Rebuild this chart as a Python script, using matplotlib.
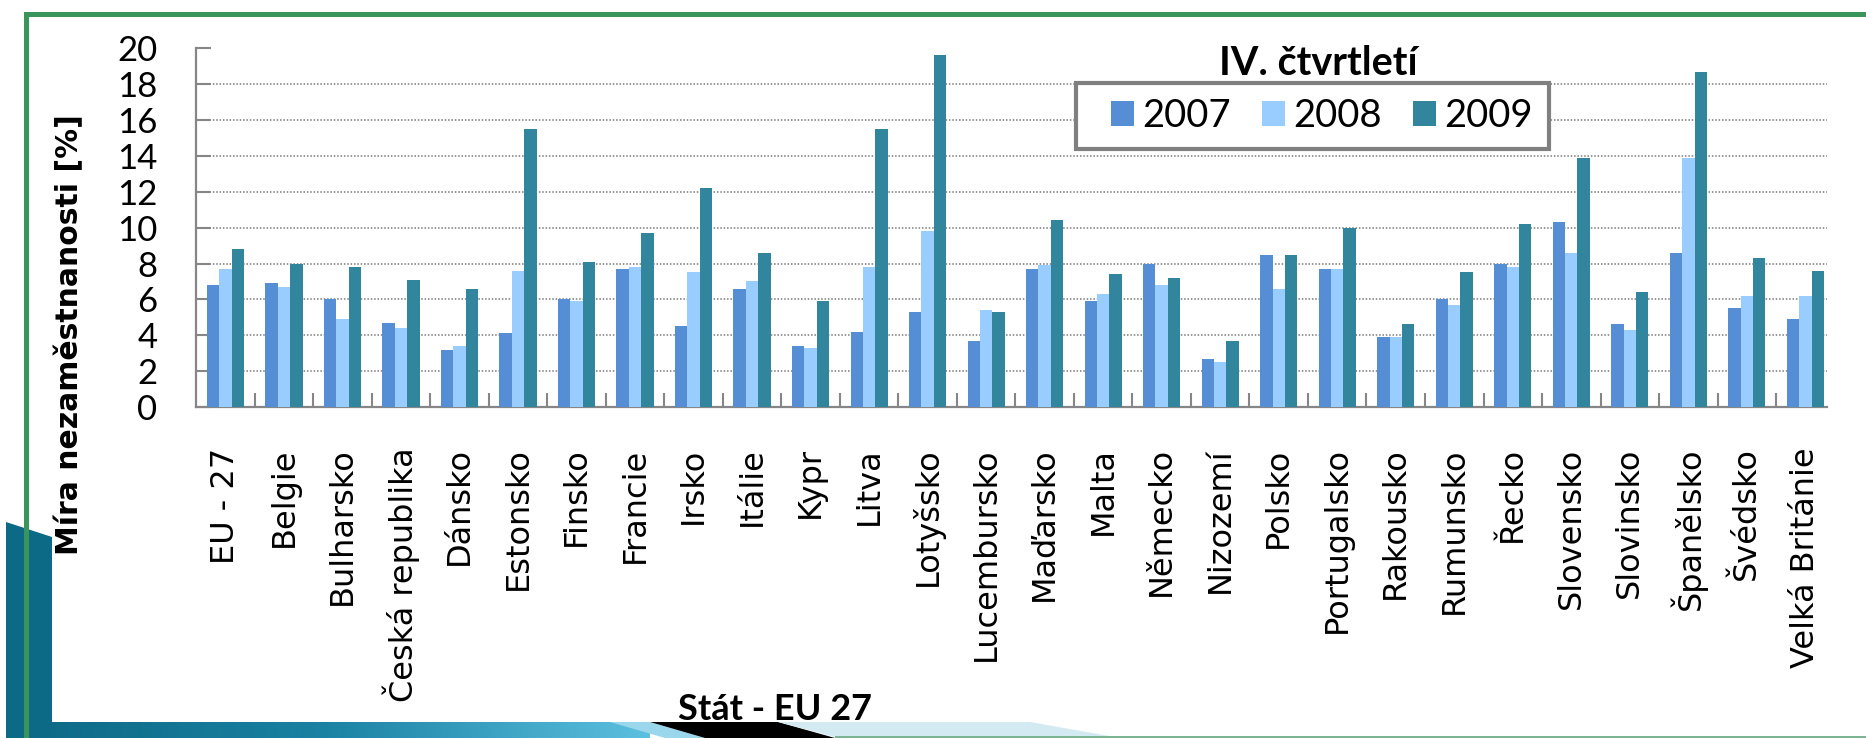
import numpy as np
import matplotlib
matplotlib.use("Agg")
import matplotlib.pyplot as plt
from matplotlib.patches import Rectangle, Polygon
from matplotlib.font_manager import FontProperties
from matplotlib.colors import LinearSegmentedColormap

categories = ["EU - 27", "Belgie", "Bulharsko", "Česká republika", "Dánsko",
              "Estonsko", "Finsko", "Francie", "Irsko", "Itálie", "Kypr",
              "Litva", "Lotyšsko", "Lucembursko", "Maďarsko", "Malta",
              "Německo", "Nizozemí", "Polsko", "Portugalsko", "Rakousko",
              "Rumunsko", "Řecko", "Slovensko", "Slovinsko", "Španělsko",
              "Švédsko", "Velká Británie"]
v2007 = [6.8, 6.9, 6.0, 4.7, 3.2, 4.1, 6.0, 7.7, 4.5, 6.6, 3.4, 4.2, 5.3, 3.7,
         7.7, 5.9, 8.0, 2.7, 8.5, 7.7, 3.9, 6.0, 8.0, 10.3, 4.6, 8.6, 5.5, 4.9]
v2008 = [7.7, 6.7, 4.9, 4.4, 3.4, 7.6, 5.9, 7.8, 7.5, 7.0, 3.3, 7.8, 9.8, 5.4,
         7.9, 6.3, 6.8, 2.5, 6.6, 7.7, 3.9, 5.7, 7.8, 8.6, 4.3, 13.9, 6.2, 6.2]
v2009 = [8.8, 8.0, 7.8, 7.1, 6.6, 15.5, 8.1, 9.7, 12.2, 8.6, 5.9, 15.5, 19.6, 5.3,
         10.4, 7.4, 7.2, 3.7, 8.5, 10.0, 4.6, 7.5, 10.2, 13.9, 6.4, 18.7, 8.3, 7.6]
series_names = ["2007", "2008", "2009"]
yticks = [0, 2, 4, 6, 8, 10, 12, 14, 16, 18, 20]

colors = ["#558ED5", "#99CCFF", "#31859C"]
W, H = 1866, 738
fig = plt.figure(figsize=(W / 100, H / 100), dpi=100)
fig.patch.set_facecolor("white")

ax = fig.add_axes([196.2 / W, 1 - 407 / H, (1827 - 196.2) / W, (407 - 48.3) / H])
x = np.arange(len(categories))
bw = 0.212
for i, (vals, name) in enumerate(zip([v2007, v2008, v2009], series_names)):
    ax.bar(x + (i - 1) * bw, vals, width=bw, color=colors[i], label=name,
           zorder=3, linewidth=0)

ax.set_xlim(-0.5, 27.37)
ax.set_ylim(0, 20)
ax.set_yticks(yticks)
ax.set_yticklabels([str(t) for t in yticks], fontproperties=FontProperties(family="Lato", size=25))
ax.hlines(yticks[1:-1], 0, 1, transform=ax.get_yaxis_transform(), colors="#7a7a7a",
          linestyles=(0, (1, 1.2)), linewidth=1.1, zorder=1)

ax.set_xticks(x)
ax.set_xticklabels(categories, rotation=90, family="DejaVu Sans", fontsize=23,
                   ha="center", va="top")
ax.set_xticks(np.arange(len(categories) - 1) + 0.5, minor=True)
ax.tick_params(axis="x", which="major", length=0, pad=29)
ax.tick_params(axis="x", which="minor", direction="in", length=10, width=1.5, color="#868686")
ax.tick_params(axis="y", which="major", direction="in", length=10.8, width=1.5,
               color="#868686", pad=28)
for s in ["top", "right"]:
    ax.spines[s].set_visible(False)
for s in ["left", "bottom"]:
    ax.spines[s].set_color("#868686")
    ax.spines[s].set_linewidth(1.6)
ax.set_facecolor("none")

fig.text(70 / W, 1 - 335 / H, "Míra nezaměstnanosti [%]", rotation=90,
         family="DejaVu Sans", weight="bold", fontsize=21.5, ha="center", va="center")
fig.text(775 / W, 1 - 720 / H, "Stát - EU 27", family="Lato", weight="bold",
         fontsize=26, ha="center", va="baseline", zorder=2)
fig.text(1318 / W, 1 - 75 / H, "IV. čtvrtletí", family="Lato", weight="bold",
         fontsize=28.5, ha="center", va="baseline")

# legend frame (white box with thick grey border), drawn inside the axes under the legend
ax.add_patch(Rectangle((1076 / W, 1 - 149 / H), (1549 - 1076) / W, (149 - 83) / H,
                       transform=fig.transFigure, facecolor="white", clip_on=False,
                       edgecolor="#808080", linewidth=3, zorder=4))
leg = ax.legend(ncol=3, loc="center", bbox_to_anchor=(1322 / W, 1 - 116 / H),
                bbox_transform=fig.transFigure,
                prop=FontProperties(family="Lato", size=27.5),
                handlelength=0.61, handleheight=0.61, handletextpad=0.22,
                columnspacing=0.8, borderpad=0.2, frameon=False)
leg.set_zorder(5)

# slide decorations (pixel space overlay)
deco = fig.add_axes([0, 0, 1, 1], zorder=10)
deco.set_xlim(0, W)
deco.set_ylim(H, 0)
deco.axis("off")
deco.patch.set_alpha(0)
grad = np.linspace(0, 1, 256).reshape(1, -1)
cm = LinearSegmentedColormap.from_list("band", ["#0C6884", "#1A82A3", "#5CC0E0"])
deco.imshow(grad, extent=[6, 650, 738, 722], cmap=cm, aspect="auto", zorder=1)
deco.add_patch(Polygon([(6, 522), (52, 537), (52, 738), (6, 738)], closed=True,
                       facecolor="#0D6A86", edgecolor="none", zorder=2))
deco.add_patch(Polygon([(610, 722), (650, 722), (705, 738), (665, 738)], closed=True,
                       facecolor="#9AD7EC", edgecolor="none", zorder=3))
deco.add_patch(Polygon([(650, 722), (778, 722), (835, 738), (705, 738)], closed=True,
                       facecolor="black", edgecolor="none", zorder=3))
deco.add_patch(Polygon([(778, 722), (1030, 722), (1115, 737), (835, 737)], closed=True,
                       facecolor="#D3EAF3", edgecolor="none", zorder=3))
deco.add_patch(Rectangle((835, 736), W - 835, 2, facecolor="#7DB494", edgecolor="none", zorder=3))
deco.add_patch(Rectangle((24, 12), W - 24, 5, facecolor="#3A955A", edgecolor="none", zorder=4))
deco.add_patch(Rectangle((24, 12), 5, H - 12, facecolor="#3A955A", edgecolor="none", zorder=4))

fig.savefig("out.png", dpi=100)
